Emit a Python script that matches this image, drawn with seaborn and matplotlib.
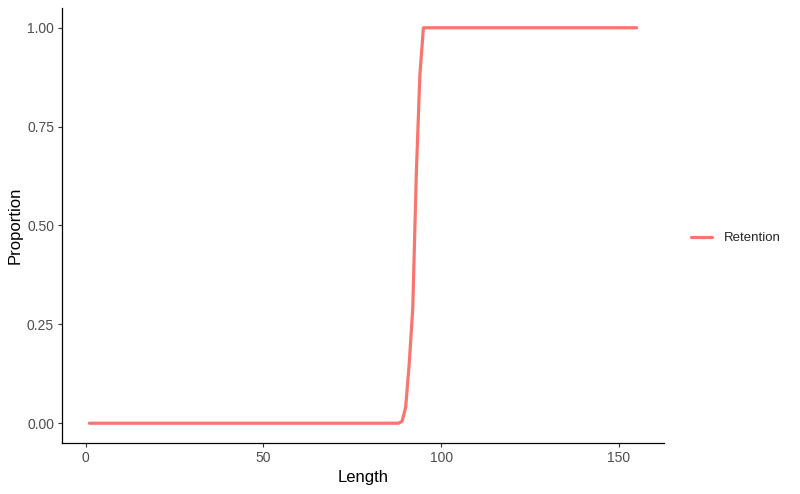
import pandas as pd
import matplotlib
matplotlib.use("Agg")
import matplotlib.pyplot as plt
import seaborn as sns

# retention curve
length = [1, 88, 89, 90, 91, 92, 93, 94, 95, 155]
proportion = [0.0, 0.0, 0.005, 0.04, 0.15, 0.29, 0.63, 0.88, 1.0, 1.0]
series = ["Retention"] * len(length)

df = pd.DataFrame({"Length": length, "Proportion": proportion, "curve": series})

sns.set_style("ticks")
plt.rcParams["font.family"] = ["Liberation Sans", "DejaVu Sans"]

fig = plt.figure(figsize=(8, 4.94), dpi=100)
ax = fig.add_axes([62 / 800, 1 - 443 / 494, (664 - 62) / 800, (443 - 8) / 494])

sns.lineplot(data=df, x="Length", y="Proportion", hue="curve",
             palette=["#F8766D"], linewidth=2.3, ax=ax)

# ggplot-style 5% expansion
ax.set_xlim(1 - 0.05 * 154, 155 + 0.05 * 154)
ax.set_ylim(-0.05, 1.05)
ax.set_xticks([0, 50, 100, 150])
ax.set_yticks([0, 0.25, 0.5, 0.75, 1.0])
ax.set_yticklabels(["0.00", "0.25", "0.50", "0.75", "1.00"])

ax.tick_params(colors="#333333", labelcolor="#4D4D4D", labelsize=10,
               length=3.2, width=0.8, pad=2.5)
for s in ["top", "right"]:
    ax.spines[s].set_visible(False)
for s in ["left", "bottom"]:
    ax.spines[s].set_color("black")
    ax.spines[s].set_linewidth(0.9)

ax.set_xlabel("Length", fontsize=12, color="black", labelpad=4)
ax.set_ylabel("Proportion", fontsize=12, color="black", labelpad=3)

leg = ax.legend(loc="center left", bbox_to_anchor=(1.025, 0.471), frameon=False,
                fontsize=9.5, handlelength=1.6, handletextpad=0.9, title=None)
for h in leg.get_lines():
    h.set_linewidth(2.3)

fig.savefig("out.png", dpi=100)
